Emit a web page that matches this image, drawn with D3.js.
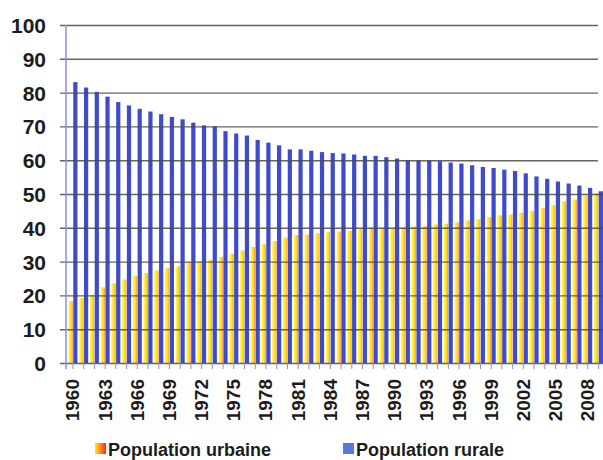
<!DOCTYPE html>
<html><head><meta charset="utf-8">
<script src="https://cdn.jsdelivr.net/npm/d3@7/dist/d3.min.js"></script>
<style>
html,body{margin:0;padding:0;background:#fff;}
svg{display:block;font-family:"Liberation Sans",Arial,sans-serif;}
</style></head><body>
<svg id="c" width="603" height="460"></svg>
<script>
const years = [1960,1961,1962,1963,1964,1965,1966,1967,1968,1969,
  1970,1971,1972,1973,1974,1975,1976,1977,1978,1979,
  1980,1981,1982,1983,1984,1985,1986,1987,1988,1989,
  1990,1991,1992,1993,1994,1995,1996,1997,1998,1999,
  2000,2001,2002,2003,2004,2005,2006,2007,2008,2009];
const urbaine = [18.3,19.2,20.2,22.4,23.6,24.7,25.7,26.6,27.4,28.1,
  28.6,29.8,30.0,30.5,31.3,32.3,33.3,34.3,35.1,36.1,
  37.1,37.8,38.0,38.4,38.7,38.9,39.1,39.6,40.0,40.0,
  40.0,40.2,40.4,40.5,41.0,41.2,41.6,42.2,42.5,43.1,
  43.7,43.9,44.4,45.0,45.8,46.7,47.8,48.3,49.5,50.2];
const rurale = [83.1,81.5,80.2,78.8,77.2,76.2,75.2,74.4,73.6,72.8,
  72.1,71.1,70.3,70.0,68.6,67.9,67.3,66.0,65.2,64.4,
  63.2,63.2,62.8,62.4,62.1,62.0,61.7,61.3,61.3,60.9,
  60.5,60.0,59.9,59.9,59.7,59.3,59.0,58.5,58.0,57.7,
  57.2,56.8,56.1,55.2,54.5,53.7,53.1,52.5,51.8,50.8];
const yTicks = [0,10,20,30,40,50,60,70,80,90,100];
const xLabels = [1960,1963,1966,1969,1972,1975,1978,1981,1984,1987,1990,1993,1996,1999,2002,2005,2008];
const seriesNames = ["Population urbaine","Population rurale"];

const svg = d3.select("#c");
const defs = svg.append("defs");
const g1 = defs.append("linearGradient").attr("id","gu").attr("x1","0").attr("x2","1").attr("y1","0").attr("y2","0");
g1.append("stop").attr("offset","0%").attr("stop-color","#fff46a");
g1.append("stop").attr("offset","55%").attr("stop-color","#ffe81a");
g1.append("stop").attr("offset","85%").attr("stop-color","#ffbc30");
g1.append("stop").attr("offset","100%").attr("stop-color","#f07060");
const g2 = defs.append("linearGradient").attr("id","gl").attr("x1","0").attr("x2","1").attr("y1","0").attr("y2","0");
g2.append("stop").attr("offset","0%").attr("stop-color","#ffe81a");
g2.append("stop").attr("offset","40%").attr("stop-color","#ff9a20");
g2.append("stop").attr("offset","100%").attr("stop-color","#e8302a");

const x = d3.scaleBand().domain(years).range([67.6, 603.8]).paddingInner(0.16).paddingOuter(0.08);
const sub = d3.scaleBand().domain([0,1]).range([0, x.bandwidth()]).paddingInner(0.12);
const y = d3.scaleLinear().domain([0,100]).range([363, 25]);

// bars
const grp = svg.append("g");
grp.selectAll("rect.u").data(years).enter().append("rect").attr("class","u")
  .attr("x", (d)=>x(d)+sub(0)).attr("width", sub.bandwidth())
  .attr("y", (d,i)=>y(urbaine[i])).attr("height",(d,i)=>y(0)-y(urbaine[i]))
  .attr("fill","url(#gu)");
grp.selectAll("rect.r").data(years).enter().append("rect").attr("class","r")
  .attr("x", (d)=>x(d)+sub(1)).attr("width", sub.bandwidth())
  .attr("y", (d,i)=>y(rurale[i])).attr("height",(d,i)=>y(0)-y(rurale[i]))
  .attr("fill","#3e4ccc");

// gridlines (over the bars as in the scan)
svg.append("g").attr("transform","translate(60,0)")
  .call(d3.axisLeft(y).tickValues(yTicks).tickSize(-(603-60)).tickFormat(""))
  .call(s=>s.select(".domain").remove())
  .call(s=>s.selectAll("line").attr("stroke","#4a4a4a").attr("stroke-width",1.4).attr("stroke-opacity",0.85))
  .call(s=>s.selectAll(".tick").filter(d=>d>=60).select("line").attr("x2", 598-60));

// y labels
svg.append("g").attr("transform","translate(46,0)")
  .call(d3.axisLeft(y).tickValues(yTicks).tickSize(0).tickPadding(0))
  .call(s=>s.select(".domain").remove())
  .call(s=>s.selectAll("text").attr("font-size",21).attr("font-weight","bold").attr("fill","#1c1c1c")
     .attr("font-family","'Liberation Sans',Arial,sans-serif").attr("text-anchor","end").attr("dy","0.36em"));

// y axis vertical line
svg.append("line").attr("x1",66).attr("x2",66).attr("y1",y(100)).attr("y2",y(0)+6)
  .attr("stroke","#8a8ee0").attr("stroke-width",1.5);

// x axis ticks
svg.append("g").attr("transform","translate(0,363)")
  .call(d3.axisBottom(x).tickSize(6).tickFormat(""))
  .call(s=>s.select(".domain").remove())
  .call(s=>s.selectAll("line").attr("stroke","#8a8ee0").attr("stroke-width",1));

// x labels
svg.append("g").selectAll("text").data(xLabels).enter().append("text")
  .attr("transform", d=>`translate(${x(d)+x.bandwidth()/2+6.5},379) rotate(-90)`)
  .attr("text-anchor","end").attr("font-size",19).attr("font-weight","bold").attr("fill","#1c1c1c")
  .text(d=>d);

// legend
const leg = svg.append("g");
const lx = [95, 343];
leg.selectAll("rect").data(seriesNames).enter().append("rect")
  .attr("x",(d,i)=>lx[i]).attr("y",443).attr("width",11).attr("height",11)
  .attr("fill",(d,i)=> i===0 ? "url(#gl)" : "#5a78e0");
leg.selectAll("text").data(seriesNames).enter().append("text")
  .attr("x",(d,i)=>lx[i]+13).attr("y",456).attr("font-size",18).attr("font-weight","bold").attr("fill","#1c1c1c")
  .text(d=>d);
</script></body></html>
